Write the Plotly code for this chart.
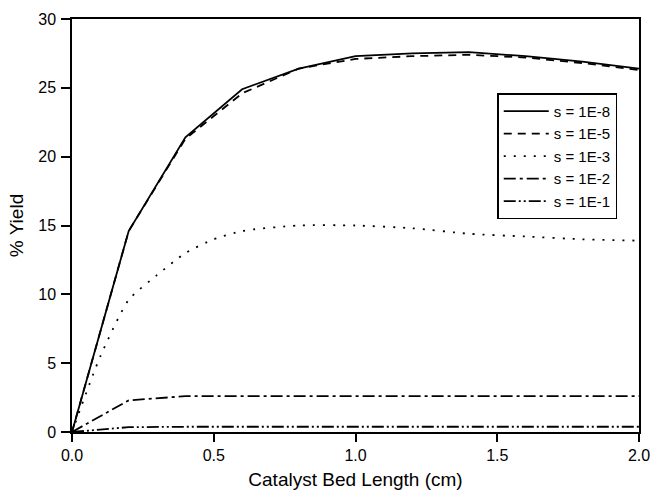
import plotly.graph_objects as go

x_main = [0.0, 0.2, 0.4, 0.6, 0.8, 1.0, 1.2, 1.4, 1.6, 1.8, 2.0]
y_1e8 = [0.0, 14.6, 21.4, 24.9, 26.4, 27.3, 27.5, 27.6, 27.3, 26.9, 26.4]
y_1e5 = [0.0, 14.6, 21.3, 24.6, 26.4, 27.1, 27.3, 27.4, 27.2, 26.8, 26.3]

x_1e3 = [0.0, 0.1, 0.2, 0.3, 0.4, 0.5, 0.6, 0.8, 1.0, 1.2, 1.4, 1.6, 1.8, 2.0]
y_1e3 = [0.0, 5.5, 9.6, 11.4, 13.0, 14.0, 14.6, 15.0, 15.0, 14.8, 14.4, 14.2, 14.0, 13.9]

y_1e2 = [0.0, 2.3, 2.6, 2.6, 2.6, 2.6, 2.6, 2.6, 2.6, 2.6, 2.6]
y_1e1 = [0.0, 0.35, 0.38, 0.38, 0.38, 0.38, 0.38, 0.38, 0.38, 0.38, 0.38]

labels = ["s = 1E-8", "s = 1E-5", "s = 1E-3", "s = 1E-2", "s = 1E-1"]

fig = go.Figure()
fig.add_trace(go.Scatter(x=x_main, y=y_1e8, mode="lines", name=labels[0],
                         line=dict(color="black", width=1.8, dash="solid")))
fig.add_trace(go.Scatter(x=x_main, y=y_1e5, mode="lines", name=labels[1],
                         line=dict(color="black", width=1.8, dash="8px,6px")))
fig.add_trace(go.Scatter(x=x_1e3, y=y_1e3, mode="lines", name=labels[2],
                         line=dict(color="black", width=1.8, dash="2px,8px", shape="spline", smoothing=0.6)))
fig.add_trace(go.Scatter(x=x_main, y=y_1e2, mode="lines", name=labels[3],
                         line=dict(color="black", width=1.8, dash="12px,4px,3px,4px")))
fig.add_trace(go.Scatter(x=x_main, y=y_1e1, mode="lines", name=labels[4],
                         line=dict(color="black", width=1.8, dash="12px,3px,2px,3px,2px,3px")))

font_family = "Liberation Sans, Arial, sans-serif"

fig.update_layout(
    width=650, height=492,
    margin=dict(l=72, r=11, t=19, b=60),
    paper_bgcolor="white", plot_bgcolor="white",
    font=dict(family=font_family, size=16, color="black"),
    showlegend=True,
    legend=dict(x=0.75, y=0.82, xanchor="left", yanchor="top",
                bordercolor="black", borderwidth=1.5, bgcolor="white",
                font=dict(size=15), tracegroupgap=0, itemwidth=45,
                traceorder="normal"),
    xaxis=dict(range=[0, 2.0], tickvals=[0, 0.5, 1.0, 1.5, 2.0],
               ticktext=["0.0", "0.5", "1.0", "1.5", "2.0"],
               ticks="outside", ticklen=8, tickwidth=1.5, tickcolor="black",
               showline=True, linecolor="black", linewidth=1.5, mirror=True,
               showgrid=False, zeroline=False, tickfont=dict(size=16),
               automargin=False, ticklabeloverflow="allow",
               title=dict(text="Catalyst Bed Length (cm)", font=dict(size=19), standoff=10)),
    yaxis=dict(range=[0, 30], tickvals=[0, 5, 10, 15, 20, 25, 30],
               ticks="outside", ticklen=9, tickwidth=1.5, tickcolor="black",
               showline=True, linecolor="black", linewidth=1.5, mirror=True,
               showgrid=False, zeroline=False, tickfont=dict(size=16),
               ticklabelstandoff=2, automargin=False, ticklabeloverflow="allow",
               title=dict(text="% Yield", font=dict(size=19), standoff=10)),
)

fig.write_html("out.html", config={"displayModeBar": False},
               post_script="document.body.style.margin='0';")
